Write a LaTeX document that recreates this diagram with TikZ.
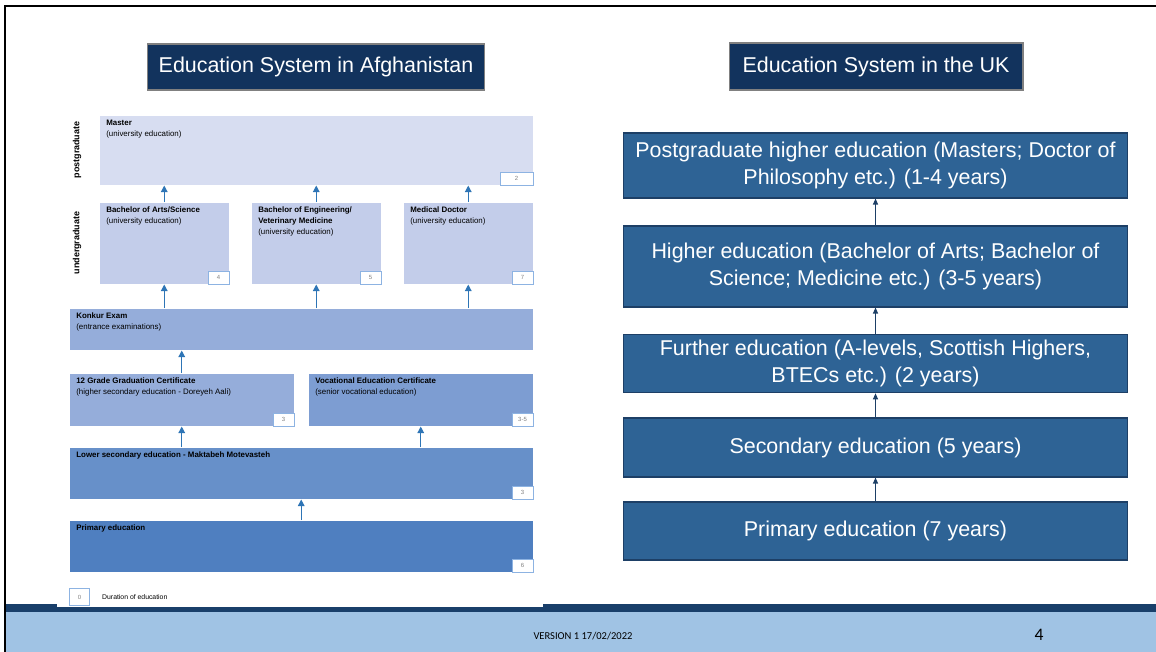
\documentclass[tikz,border=0pt]{standalone}
\usepackage{fontspec}
\setmainfont{Liberation Sans}
\newfontfamily\footfont{Carlito}
\usepackage{tikz}
\usetikzlibrary{positioning,arrows.meta}
\definecolor{TitleNavy}{HTML}{12335D}
\definecolor{UKBlue}{HTML}{2E6395}
\definecolor{UKEdge}{HTML}{1D3F66}
\definecolor{MasterFill}{HTML}{D7DDF1}
\definecolor{BachFill}{HTML}{C3CDEA}
\definecolor{KonkurFill}{HTML}{95ADDA}
\definecolor{VocFill}{HTML}{7D9DD2}
\definecolor{LowerFill}{HTML}{6790C9}
\definecolor{PrimFill}{HTML}{4F7FC0}
\definecolor{ArrowBlue}{HTML}{2E75B6}
\definecolor{DurEdge}{HTML}{8DB3E2}
\definecolor{BandNavy}{HTML}{193F6A}
\definecolor{BandLight}{HTML}{A0C3E4}

\tikzset{
  afgbox/.style={draw=white, line width=0.3pt, inner sep=0pt, anchor=north west},
  afgtext/.style={anchor=north west, inner sep=0pt, align=left, font=\fontsize{4.5}{6.2}\selectfont},
  durbox/.style={draw=DurEdge, fill=white, line width=0.5pt, inner sep=0pt, minimum height=0.26cm, minimum width=0.42cm, text=gray, font=\fontsize{3.4}{4}\selectfont, anchor=south east},
  afgarrow/.style={ArrowBlue, line width=0.7pt, -{Triangle[length=0.13cm,width=0.13cm]}},
  ukbox/.style={draw=UKEdge, fill=UKBlue, line width=0.6pt, text=white, minimum width=10.1cm, align=center, font=\fontsize{12.2}{15.3}\selectfont},
  ukarrow/.style={UKEdge, line width=0.6pt, -{Triangle[length=0.12cm,width=0.1cm]}},
  titlebox/.style={draw=gray, fill=TitleNavy, text=white, line width=0.6pt, font=\fontsize{12.2}{14}\selectfont},
  sidelabel/.style={rotate=90, font=\fontsize{5.1}{6}\selectfont\bfseries}
}

\begin{document}
\begin{tikzpicture}[x=0.02cm, y=-0.02cm]
    \useasboundingbox (0,0) rectangle (1156,652);
    \fill[white] (0,0) rectangle (1156,652);
    % footer band
    \fill[BandNavy] (5,604) rectangle (1156,612);
    \fill[BandLight] (5,612) rectangle (1156,652);
    \fill[white] (57,100) rectangle (543,607);
    \draw[black, line width=1.2pt] (5,652) -- (5,6) -- (1156,6);

    \node[titlebox, minimum width=6.76cm, minimum height=0.92cm] (afgtitle) at (316,67) {Education System in Afghanistan};
    \node[titlebox, minimum width=5.88cm, minimum height=0.94cm] (uktitle) at (876,66.5) {Education System in the UK};

    % Afghanistan
    \node[sidelabel] (pglabel) at (77,150) {postgraduate};
    \node[sidelabel] (uglabel) at (77,243) {undergraduate};

    \node[afgbox, fill=MasterFill, minimum width=8.68cm, minimum height=1.4cm] (master) at (99,115) {};
    \node[durbox, minimum width=0.66cm] (masterdur) at (master.south east) {2};
    \node[afgtext] (mastertext) at ([xshift=0.14cm,yshift=-0.09cm]master.north west) {\textbf{Master}\\(university education)};

    \node[afgbox, fill=KonkurFill, minimum width=9.28cm, minimum height=0.84cm] (konkur) at (69,308) {};
    \node[afgtext] (konkurtext) at ([xshift=0.14cm,yshift=-0.09cm]konkur.north west) {\textbf{Konkur Exam}\\(entrance examinations)};

    \foreach \n/\x/\d in {arts/99/4, eng/251/5, med/403/7} {
        \node[afgbox, fill=BachFill, minimum width=2.6cm, minimum height=1.64cm] (\n) at (\x,202) {};
        \node[durbox] (\n dur) at (\n.south east) {\d};
        \draw[afgarrow] (\n.north) -- (\n.north |- master.south);
        \draw[afgarrow] (\n.south |- konkur.north) -- (\n.south);
    }
    \node[afgtext] (artstext) at ([xshift=0.14cm,yshift=-0.09cm]arts.north west) {\textbf{Bachelor of Arts/Science}\\(university education)};
    \node[afgtext] (engtext) at ([xshift=0.14cm,yshift=-0.09cm]eng.north west) {\textbf{Bachelor of Engineering/}\\\textbf{Veterinary Medicine}\\(university education)};
    \node[afgtext] (medtext) at ([xshift=0.14cm,yshift=-0.09cm]med.north west) {\textbf{Medical Doctor}\\(university education)};

    \node[afgbox, fill=KonkurFill, minimum width=4.5cm, minimum height=1.06cm] (grade) at (69,373) {};
    \node[durbox] (gradedur) at (grade.south east) {3};
    \node[afgtext] (gradetext) at ([xshift=0.14cm,yshift=-0.09cm]grade.north west) {\textbf{12 Grade Graduation Certificate}\\(higher secondary education - Doreyeh Aali)};

    \node[afgbox, fill=VocFill, minimum width=4.5cm, minimum height=1.06cm] (voc) at (308,373) {};
    \node[durbox] (vocdur) at (voc.south east) {3-5};
    \node[afgtext] (voctext) at ([xshift=0.14cm,yshift=-0.09cm]voc.north west) {\textbf{Vocational Education Certificate}\\(senior vocational education)};

    \node[afgbox, fill=LowerFill, minimum width=9.28cm, minimum height=1.04cm] (lower) at (69,447) {};
    \node[durbox] (lowerdur) at (lower.south east) {3};
    \node[afgtext] (lowertext) at ([xshift=0.14cm,yshift=-0.09cm]lower.north west) {\textbf{Lower secondary education - Maktabeh Motevasteh}};

    \node[afgbox, fill=PrimFill, minimum width=9.28cm, minimum height=1.04cm] (primary) at (69,520) {};
    \node[durbox] (primarydur) at (primary.south east) {6};
    \node[afgtext] (primarytext) at ([xshift=0.14cm,yshift=-0.09cm]primary.north west) {\textbf{Primary education}};

    \draw[afgarrow] (grade.north) -- (grade.north |- konkur.south);
    \draw[afgarrow] (grade.south |- lower.north) -- (grade.south);
    \draw[afgarrow] (voc.south |- lower.north) -- (voc.south);
    \draw[afgarrow] (lower.south |- primary.north) -- (lower.south);

    \node[durbox, anchor=north west, minimum width=0.4cm, minimum height=0.34cm] (legendbox) at (69,588) {0};
    \node[afgtext, anchor=west, font=\fontsize{3.9}{4.5}\selectfont, right=0.24cm of legendbox] (legendtext) {Duration of education};

    % UK
    \node[ukbox, minimum height=1.3cm] (ukpost) at (875.5,165.5) {Postgraduate higher education (Masters; Doctor of\\Philosophy etc.) (1-4 years)};
    \node[ukbox, minimum height=1.62cm] (ukhigher) at (875.5,266.5) {Higher education (Bachelor of Arts; Bachelor of\\Science; Medicine etc.) (3-5 years)};
    \node[ukbox, minimum height=1.14cm] (ukfurther) at (875.5,363.5) {Further education (A-levels, Scottish Highers,\\BTECs etc.) (2 years)};
    \node[ukbox, minimum height=1.18cm] (uksec) at (875.5,447.5) {Secondary education (5 years)};
    \node[ukbox, minimum height=1.16cm] (ukprim) at (875.5,531) {Primary education (7 years)};
    \foreach \a/\b in {ukprim/uksec, uksec/ukfurther, ukfurther/ukhigher, ukhigher/ukpost}
        \draw[ukarrow] (\a) -- (\b);

    \node[font=\footfont\fontsize{6}{7}\selectfont] (version) at (583,636) {VERSION 1 17/02/2022};
    \node[font=\footfont\fontsize{10}{12}\selectfont] (pagenum) at (1039,635) {4};
\end{tikzpicture}
\end{document}
